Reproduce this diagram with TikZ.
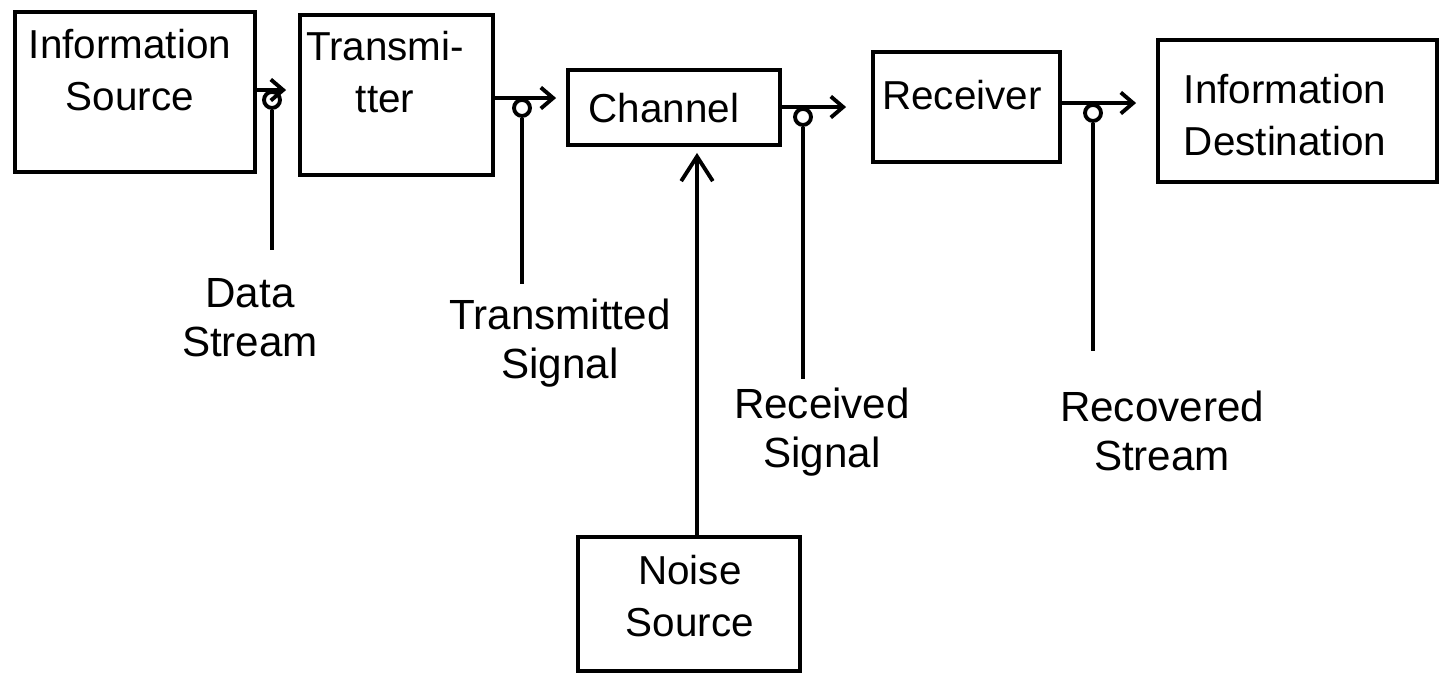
\documentclass[tikz,border=0pt]{standalone}
\usepackage{fontspec}
\setmainfont{Liberation Sans}
\usetikzlibrary{arrows.meta, positioning, calc}

\begin{document}
\begin{tikzpicture}[line width=1.1pt,
    blk/.style={draw, inner sep=0pt},
    txt/.style={font=\fontsize{11.5}{15}\selectfont, align=center, inner sep=0pt},
    lbl/.style={font=\fontsize{12}{14}\selectfont, align=center, inner sep=0pt},
    tap/.style={draw, circle, minimum size=0.16cm, inner sep=0pt, anchor=north},
    flow/.style={-{Straight Barb[length=3.5pt,width=6pt]}},
    noisy/.style={-{Straight Barb[length=7pt,width=9pt]}}]
  \useasboundingbox (0,0) rectangle (14.52,6.74);
  % blocks
  \foreach \n/\x/\y/\w/\h in {src/1.35/5.82/2.40/1.60, tx/3.965/5.79/1.93/1.60,
      ch/6.74/5.665/2.12/0.75, rx/9.665/5.67/1.87/1.10,
      dst/12.975/5.63/2.79/1.42, noise/6.89/0.70/2.22/1.34} {
    \node[blk, minimum width=\w cm, minimum height=\h cm] (\n) at (\x,\y) {};
  }
  \node[txt] (srcT) at (1.30,6.04) {Information\\Source};
  \node[txt] (txT) at (3.85,6.02) {Transmi-\\tter};
  \node[txt] (chT) at (6.64,5.66) {Channel};
  \node[txt] (rxT) at (9.62,5.79) {Receiver};
  \node[txt] (dstT) at (12.85,5.59) {Information\\Destination};
  \node[txt] (noiseT) at (6.90,0.78) {Noise\\Source};
  % taps on the links
  \foreach \t/\x/\y in {t1/2.72/5.84, t2/5.22/5.76, t3/8.03/5.67, t4/10.93/5.71} {
    \node[tap] (\t) at (\x,\y) {};
  }
  \draw[flow, shorten >=0.12cm] (src.east |- t1.north) -- (tx.west |- t1.north);
  \draw[flow, shorten >=0.10cm] (tx.east |- t2.north) -- (ch.west |- t2.north);
  \draw[flow, shorten >=0.25cm] (ch.east |- t3.north) -- (rx.west |- t3.north);
  \draw[flow, shorten >=0.20cm] (rx.east |- t4.north) -- (dst.west |- t4.north);
  % signal labels
  \node[lbl] (l1) at (2.50,3.56) {Data\\Stream};
  \node[lbl] (l2) at (5.60,3.31) {Transmitted\\Signal};
  \node[lbl] (l3) at (8.22,2.42) {Received\\Signal};
  \node[lbl] (l4) at (11.62,2.43) {Recovered\\Stream};
  \draw[shorten >=0.27cm] (t1.south) -- (t1.south |- l1.north);
  \draw[shorten >=0.13cm] (t2.south) -- (t2.south |- l2.north);
  \draw[shorten >=0.07cm] (t3.south) -- (t3.south |- l3.north);
  \draw[shorten >=0.38cm] (t4.south) -- (t4.south |- l4.north);
  % noise into the channel
  \draw[noisy, shorten >=0.06cm] ([xshift=0.08cm]noise.north) -- ([xshift=0.08cm]noise.north |- ch.south);
\end{tikzpicture}
\end{document}
